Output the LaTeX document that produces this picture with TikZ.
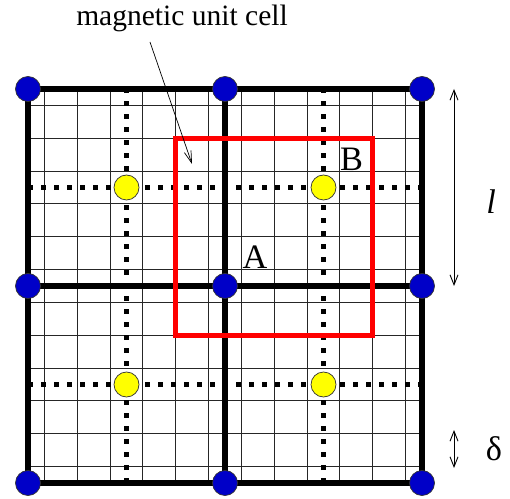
\documentclass[tikz,border=0pt]{standalone}
\usepackage{fontspec}
\setmainfont{Liberation Serif}
\usetikzlibrary{arrows.meta}
\definecolor{siteblue}{HTML}{0000C8}
\definecolor{siteyellow}{HTML}{FFFF00}
\tikzset{
  corner site/.style={circle,draw=black!80,fill=siteblue,line width=0.4pt,
    minimum size=5mm,inner sep=0pt},
  centre site/.style={circle,draw=black!80,fill=siteyellow,line width=0.4pt,
    minimum size=5mm,inner sep=0pt},
  fine/.style={draw=black!85,line width=0.6pt},
  bond/.style={draw=black,line width=2.9pt},
  dotline/.style={draw=black,line width=2.6pt,dash pattern=on 2.6pt off 4.8pt},
  cell/.style={draw=red,line width=3pt},
  measure/.style={{Straight Barb[length=2mm,width=1.6mm]}-{Straight Barb[length=2mm,width=1.6mm]},
    line width=0.5pt},
  pointer/.style={-{Straight Barb[length=2.4mm,width=1.4mm]},line width=0.4pt},
  bigtext/.style={font=\fontsize{19.5}{22}\selectfont}
}

\begin{document}
\begin{tikzpicture}
  \def\l{3.94}
  \useasboundingbox (-0.56,-0.30) rectangle (9.64,9.66);
  % fine grid, spacing delta
  \foreach \k in {0,...,11} {
    \draw[fine] ({(\k+0.5)*\l/6},0) -- ({(\k+0.5)*\l/6},2*\l);
    \draw[fine] (0,{(\k+0.5)*\l/6}) -- (2*\l,{(\k+0.5)*\l/6});
  }
  \foreach \t in {0.5,1.5} {
    \draw[dotline] (\t*\l,0) -- (\t*\l,2*\l);
    \draw[dotline] (0,\t*\l) -- (2*\l,\t*\l);
  }
  \foreach \t in {0,1,2} {
    \draw[bond] (\t*\l,0) -- (\t*\l,2*\l);
    \draw[bond] (0,\t*\l) -- (2*\l,\t*\l);
  }
  % magnetic unit cell
  \draw[cell] (0.75*\l,0.75*\l) rectangle (1.75*\l,1.75*\l);
  % sites
  \foreach \i in {0,1,2}
    \foreach \j in {0,1,2}
      \node[corner site] (s\i\j) at (\i*\l,\j*\l) {};
  \foreach \i in {0,1}
    \foreach \j in {0,1}
      \node[centre site] (c\i\j) at ({(\i+0.5)*\l},{(\j+0.5)*\l}) {};
  \node[bigtext] (labA) at ([shift={(0.6,0.58)}]s11) {A};
  \node[bigtext] (labB) at ([shift={(0.56,0.56)}]c11) {B};

  \node[font=\fontsize{16.8}{19}\selectfont] (celltext) at (3.08,9.3) {magnetic unit cell};
  \coordinate (ptail) at (2.44,8.82);
  \coordinate (phead) at (3.28,6.38);
  \draw[pointer] (ptail) -- (phead);

  % scale marks
  \coordinate (ltop) at (8.52,2*\l);
  \coordinate (lbot) at (8.52,\l);
  \draw[measure] (ltop) -- (lbot);
  \node[bigtext,font=\fontsize{19.5}{22}\selectfont\itshape] (labl) at (9.26,5.62) {l};
  \coordinate (dtop) at (8.52,1.06);
  \coordinate (dbot) at (8.52,0.30);
  \draw[measure] (dtop) -- (dbot);
  \node[bigtext] (labd) at (9.32,0.68) {δ};
\end{tikzpicture}
\end{document}
